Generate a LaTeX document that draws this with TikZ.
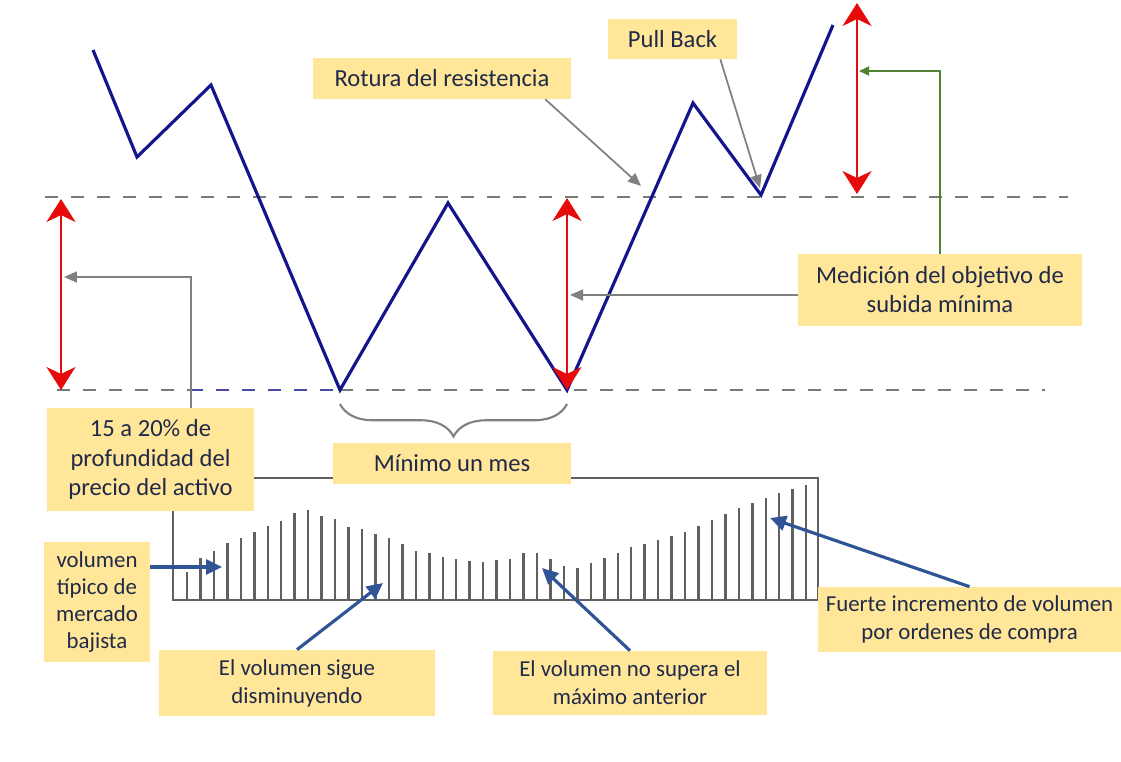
\documentclass[tikz,border=0pt]{standalone}
\usepackage{fontspec}
\setmainfont{Carlito}
\usetikzlibrary{calc,arrows.meta,decorations.pathreplacing}
\definecolor{boxfill}{RGB}{255,230,153}
\definecolor{boxtext}{RGB}{32,42,72}
\definecolor{priceblue}{RGB}{20,20,140}
\definecolor{callblue}{RGB}{47,85,151}
\definecolor{levelgray}{RGB}{115,125,118}
\definecolor{levelblue}{RGB}{75,75,170}
\definecolor{measred}{RGB}{230,10,10}
\definecolor{callgreen}{RGB}{84,130,53}
\tikzset{%
	notebox/.style={rectangle,fill=boxfill,text=boxtext,align=center,inner sep=0pt,
		font=\fontsize{14}{16.5}\selectfont},
	reslevel/.style={dash pattern=on 7.4pt off 7.4pt,line width=1.5pt}
}

\begin{document}
\begin{tikzpicture}[x=0.02cm,y=-0.02cm,
		measure/.style={measred,line width=1.2pt,
			{Stealth[length=0.46cm,width=0.58cm,inset=0.14cm]}-{Stealth[length=0.46cm,width=0.58cm,inset=0.14cm]}},
		grayarr/.style={gray,line width=1pt,-{Triangle[length=0.26cm,width=0.22cm]}},
		greenarr/.style={callgreen,line width=1.2pt,-{Triangle[length=0.2cm,width=0.18cm]}},
		bluearr/.style={callblue,line width=1.8pt,-{Triangle[length=0.32cm,width=0.3cm]}},
		volbar/.style={gray!75!black,line width=1.4pt}]
	\useasboundingbox (0,0) rectangle (1121,761);
	% volume panel
	\draw[volbar] (173,478) rectangle (818,600);
	\foreach \h [count=\i from 0] in {28,42,49,57,62,68,74,79,87,90,84,81,73,71,66,62,56,49,47,43,41,39,38,40,
		41,47,47,41,34,32,37,42,47,53,56,60,64,68,74,80,86,92,97,102,107,111,115}
		\draw[volbar] ({187+13.46*\i},600) -- ++(0,-\h);
	% support and resistance
	\draw[reslevel,levelgray] (45,197) -- (1068,197);
	\draw[reslevel,levelgray] (57,390) -- (190,390);
	\draw[reslevel,levelblue] (190,390) -- (340,390);
	\draw[reslevel,levelgray] (340,390) -- (1045,390);
	% price
	\coordinate (p1) at (93,50);
	\coordinate (p2) at (137,157);
	\coordinate (p3) at (211,85);
	\coordinate (p4) at (340,390);
	\coordinate (p5) at (448,203);
	\coordinate (p6) at (567,390);
	\coordinate (p7) at (693,103);
	\coordinate (p8) at (761,195);
	\coordinate (p9) at (833,25);
	\draw[priceblue,line width=1.8pt] (p1) -- (p2) -- (p3) -- (p4) -- (p5) -- (p6) -- (p7) -- (p8) -- (p9);
	% depth and target
	\coordinate (ltop) at (61,199);
	\coordinate (lbot) at (61,390);
	\coordinate (mtop) at (567,198);
	\coordinate (mbot) at (567,390);
	\coordinate (rtop) at (857,3);
	\coordinate (rbot) at (857,194);
	\draw[measure] (lbot) -- (ltop);
	\draw[measure] (mbot) -- (mtop);
	\draw[measure] (rbot) -- (rtop);
	\draw[gray,line width=1.2pt,decorate,decoration={brace,mirror,amplitude=0.65cm}] (p4) ++(0,14) -- (567,404);

	\node[notebox,minimum width=5.16cm,minimum height=0.82cm] (rotura) at (442,78.5) {Rotura del resistencia};
	\node[notebox,minimum width=2.58cm,minimum height=0.80cm] (pullback) at (672.5,39) {Pull Back};
	\node[notebox,minimum width=5.68cm,minimum height=1.44cm] (medicion) at (940,290) {Medición del objetivo de\\subida mínima};
	\node[notebox,minimum width=4.14cm,minimum height=2.06cm,font=\fontsize{14}{17}\selectfont] (profund) at (150.5,459.5) {15 a 20\% de\\profundidad del\\precio del activo};
	\node[notebox,minimum width=4.76cm,minimum height=0.82cm] (minimo) at (452,463.5) {Mínimo un mes};
	\node[notebox,minimum width=2.12cm,minimum height=2.40cm,font=\fontsize{13}{15.5}\selectfont] (tipico) at (97,602) {volumen\\típico de\\mercado\\bajista};
	\node[notebox,minimum width=5.52cm,minimum height=1.32cm,font=\fontsize{13}{16}\selectfont] (sigue) at (297,683) {El volumen sigue\\disminuyendo};
	\node[notebox,minimum width=5.48cm,minimum height=1.28cm,font=\fontsize{13}{16}\selectfont] (supera) at (630,683) {El volumen no supera el\\máximo anterior};
	\node[notebox,minimum width=6.06cm,minimum height=1.30cm,font=\fontsize{13}{16}\selectfont] (fuerte) at (969.5,619.5) {Fuerte incremento de volumen\\por ordenes de compra};

	\coordinate (lknee) at (191,277);
	\coordinate (lmid) at (64,277);
	\draw[grayarr] (profund.north -| lknee) -- (lknee) -- (lmid);
	\coordinate (mmid) at (570,295);
	\draw[grayarr] (medicion.west |- mmid) -- (mmid);
	\coordinate (rmid) at (859,71);
	\draw[greenarr] (medicion.north) |- (rmid);
	\coordinate (brk) at (641,186);
	\draw[grayarr] ($(rotura.south east)+(-26,0)$) -- (brk);
	\coordinate (pbk) at (760,188);
	\draw[grayarr] ($(pullback.south east)+(-17,0)$) -- (pbk);

	\coordinate (vt) at (222,567);
	\draw[bluearr] (tipico.east |- vt) -- (vt);
	\coordinate (vs) at (383,583);
	\draw[bluearr] (sigue.north) -- (vs);
	\coordinate (vn) at (542,568);
	\draw[bluearr] (supera.north) -- (vn);
	\coordinate (vf) at (770,518);
	\draw[bluearr] (fuerte.north) -- (vf);
\end{tikzpicture}
\end{document}
